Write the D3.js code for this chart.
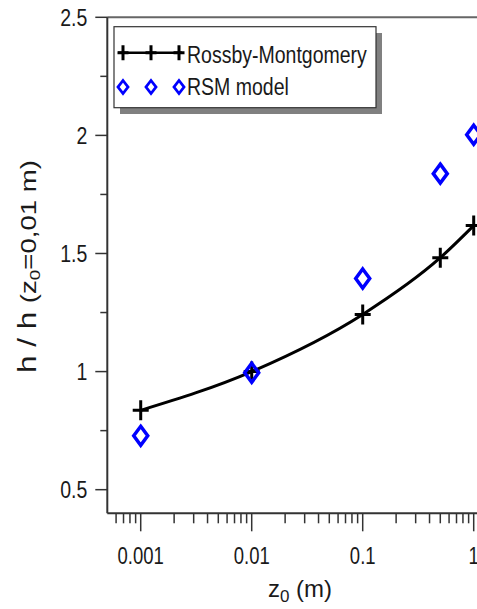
<!DOCTYPE html>
<html>
<head>
<meta charset="utf-8">
<script src="https://cdn.jsdelivr.net/npm/d3@7"></script>
<style>
  html, body { margin: 0; padding: 0; background: #fff; }
  svg { display: block; }
  text { font-family: "Liberation Sans", Arial, sans-serif; fill: #1a1a1a; }
</style>
</head>
<body>
<svg id="chart" width="477" height="609"></svg>
<script>
// ---- data ----
const zValues = [0.001, 0.01, 0.1, 0.5, 1];
const rossbyMontgomery = [0.836, 1.0, 1.242, 1.482, 1.618];
const rsmModel = [0.728, 0.995, 1.394, 1.838, 2.003];
const seriesNames = ["Rossby-Montgomery", "RSM model"];
const xTickValues = [0.001, 0.01, 0.1, 1];
const xTickLabels = ["0.001", "0.01", "0.1", "1"];
const yTickValues = [0.5, 1, 1.5, 2, 2.5];
const yTickLabels = ["0.5", "1", "1.5", "2", "2.5"];
const yMinorValues = [0.75, 1.25, 1.75, 2.25];

// ---- layout ----
const W = 477, H = 609;
const pLeft = 107.3, pRight = 473.7, pTop = 17.3, pBottom = 513.3;
const stretch = 1.25;

const svg = d3.select("#chart");
const x = d3.scaleLog().domain([0.0005, 1]).range([pLeft, pRight]);
const y = d3.scaleLinear().domain([0.4, 2.5]).range([pBottom, pTop]);

// minor x ticks
const xMinor = [];
[0.0001, 0.001, 0.01, 0.1].forEach(d => {
  for (let k = 2; k <= 9; k++) {
    const v = d * k;
    if (v > 0.0005 + 1e-12 && v < 1 - 1e-12) xMinor.push(v);
  }
});

const axisColor = "#333";

// top frame line
svg.append("line")
  .attr("x1", pLeft).attr("x2", W).attr("y1", y(2.5)).attr("y2", y(2.5))
  .attr("stroke", "#666").attr("stroke-width", 2);

// bottom axis line
svg.append("line")
  .attr("x1", pLeft).attr("x2", W).attr("y1", pBottom).attr("y2", pBottom)
  .attr("stroke", axisColor).attr("stroke-width", 2);
// left axis line
svg.append("line")
  .attr("x1", pLeft).attr("x2", pLeft).attr("y1", pTop).attr("y2", pBottom)
  .attr("stroke", axisColor).attr("stroke-width", 2);

// x ticks
svg.append("g").selectAll("line").data(xTickValues).join("line")
  .attr("x1", d => x(d)).attr("x2", d => x(d))
  .attr("y1", pBottom).attr("y2", pBottom + 18)
  .attr("stroke", axisColor).attr("stroke-width", 1.5);
svg.append("g").selectAll("line").data(xMinor).join("line")
  .attr("x1", d => x(d)).attr("x2", d => x(d))
  .attr("y1", pBottom).attr("y2", pBottom + 10)
  .attr("stroke", axisColor).attr("stroke-width", 1.5);
svg.append("g").selectAll("text").data(xTickValues).join("text")
  .attr("transform", d => `translate(${x(d)},${pBottom + 51}) scale(1,${stretch})`)
  .attr("text-anchor", "middle")
  .attr("font-size", 18.5)
  .text((d, i) => xTickLabels[i]);

// y ticks
svg.append("g").selectAll("line").data(yTickValues).join("line")
  .attr("x1", pLeft - 12).attr("x2", pLeft)
  .attr("y1", d => y(d)).attr("y2", d => y(d))
  .attr("stroke", axisColor).attr("stroke-width", 1.5);
svg.append("g").selectAll("line").data(yMinorValues).join("line")
  .attr("x1", pLeft - 7).attr("x2", pLeft)
  .attr("y1", d => y(d)).attr("y2", d => y(d))
  .attr("stroke", axisColor).attr("stroke-width", 1.5);
svg.append("g").selectAll("text").data(yTickValues).join("text")
  .attr("transform", d => `translate(${pLeft - 20},${y(d) + 8.5}) scale(1,${stretch})`)
  .attr("text-anchor", "end")
  .attr("font-size", 19.5)
  .text((d, i) => yTickLabels[i]);

// x title
const xt = svg.append("text")
  .attr("transform", `translate(300,597)`)
  .attr("text-anchor", "middle")
  .attr("font-size", 24);
xt.append("tspan").text("z");
xt.append("tspan").attr("font-size", 17).attr("dy", 5).text("0");
xt.append("tspan").attr("dy", -5).text(" (m)");

// y title
const yt = svg.append("text")
  .attr("text-anchor", "middle")
  .attr("font-size", 25);
yt.append("tspan").text("h / h ");
yt.append("tspan").attr("font-size", 22).text("(z");
yt.append("tspan").attr("font-size", 15).attr("dy", 4).text("0");
yt.append("tspan").attr("font-size", 22).attr("dy", -4).text("=0,01 m)");
const ytw = yt.node().getBBox().width;
const ys = 213 / ytw;
yt.attr("transform", `translate(36,266.5) rotate(-90) scale(${ys},1)`);

// ---- plot ----
const plot = svg.append("g");

const line = d3.line()
  .x((d, i) => x(zValues[i]))
  .y(d => y(d))
  .curve(d3.curveMonotoneX);

plot.append("path")
  .datum(rossbyMontgomery)
  .attr("d", line)
  .attr("fill", "none")
  .attr("stroke", "#000")
  .attr("stroke-width", 3);

function crossPath(cx, cy, hw, hh) {
  return `M${cx - hw},${cy}H${cx + hw}M${cx},${cy - hh}V${cy + hh}`;
}
function diamondPath(cx, cy, hw, hh) {
  return `M${cx},${cy - hh}L${cx + hw},${cy}L${cx},${cy + hh}L${cx - hw},${cy}Z`;
}

plot.selectAll("path.cross").data(rossbyMontgomery).join("path")
  .attr("class", "cross")
  .attr("d", (d, i) => crossPath(x(zValues[i]), y(d), 8, 10))
  .attr("stroke", "#000").attr("stroke-width", 3).attr("fill", "none");

plot.selectAll("path.diam").data(rsmModel).join("path")
  .attr("class", "diam")
  .attr("d", (d, i) => diamondPath(x(zValues[i]), y(d), 7, 9.5))
  .attr("stroke", "#0000ff").attr("stroke-width", 3.5).attr("fill", "none")
  .attr("stroke-linejoin", "miter");

// ---- legend ----
const lg = svg.append("g");
lg.append("rect").attr("x", 120).attr("y", 33).attr("width", 262).attr("height", 81)
  .attr("fill", "#808080");
lg.append("rect").attr("x", 114).attr("y", 26.7).attr("width", 262).attr("height", 81)
  .attr("fill", "#fff").attr("stroke", "#333").attr("stroke-width", 1.2);

const legX = [123, 151, 179];
const row1 = 52.7, row2 = 87;
lg.append("line").attr("x1", 118).attr("x2", 182).attr("y1", row1).attr("y2", row1)
  .attr("stroke", "#000").attr("stroke-width", 2.5);
lg.selectAll("path.lc").data(legX).join("path")
  .attr("class", "lc")
  .attr("d", d => crossPath(d, row1, 5.5, 7.5))
  .attr("stroke", "#000").attr("stroke-width", 3).attr("fill", "none");
lg.selectAll("path.ld").data(legX).join("path")
  .attr("class", "ld")
  .attr("d", d => diamondPath(d, row2, 5, 6.5))
  .attr("stroke", "#0000ff").attr("stroke-width", 2.8).attr("fill", "none");

lg.append("text")
  .attr("transform", `translate(187,${row1 + 9.8}) scale(1,${stretch})`)
  .attr("font-size", 19.5).text(seriesNames[0]);
lg.append("text")
  .attr("transform", `translate(187,${row2 + 8.2}) scale(1,${stretch})`)
  .attr("font-size", 19.5).text(seriesNames[1]);
</script>
</body>
</html>
